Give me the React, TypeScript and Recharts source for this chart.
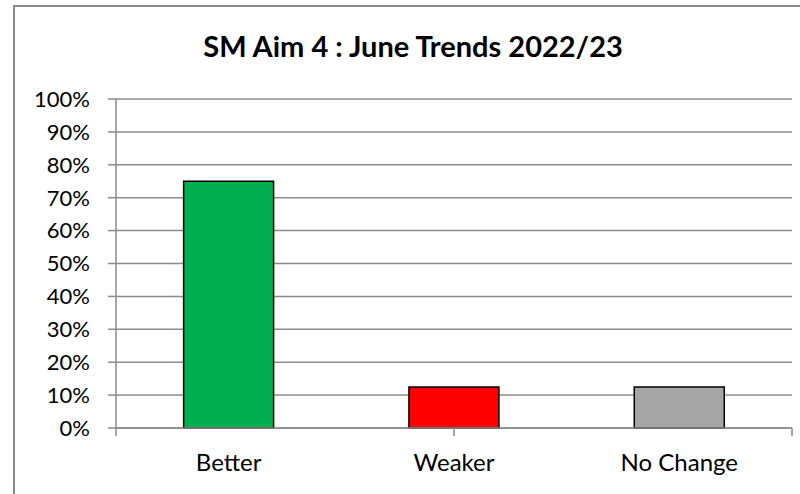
import React from "react";
import { BarChart, Bar, XAxis, YAxis, CartesianGrid, Cell } from "recharts";

const categories = ["Better", "Weaker", "No Change"];
const values = [0.75, 0.125, 0.125];
const colors = ["#00B050", "#FF0000", "#A6A6A6"];
const yTicks = [0, 0.1, 0.2, 0.3, 0.4, 0.5, 0.6, 0.7, 0.8, 0.9, 1];
const edgeTicks = [0, 1, 2, 3];
const title = "SM Aim 4 : June Trends 2022/23";

const data = categories.map((c, i) => ({ name: c, value: values[i] }));

const FONT = "Lato, 'Open Sans', sans-serif";
const GRID = "#8c8c8c";

export default function App() {
  return (
    <div style={{ position: "absolute", left: 0, top: 0, width: 800, height: 494, overflow: "hidden", background: "#fff", fontFamily: FONT }}>
      <div style={{ position: "absolute", left: 13, top: 5, width: 820, height: 520, border: `2px solid ${GRID}`, boxSizing: "border-box" }} />
      <div style={{ position: "absolute", left: 0, top: 28, width: 826, textAlign: "center", fontWeight: 700, fontSize: 29, color: "#000", lineHeight: "36px" }}>
        {title}
      </div>
      <div style={{ position: "absolute", left: 0, top: 0 }}>
        <BarChart width={800} height={494} data={data} margin={{ top: 99, right: 8, bottom: 8, left: 16 }} barCategoryGap="30%">
          <CartesianGrid vertical={false} stroke={GRID} strokeWidth={1.5} yAxisId="y" xAxisId="b" />
          <YAxis
            yAxisId="y"
            width={100}
            domain={[0, 1]}
            ticks={yTicks}
            interval={0}
            tickFormatter={(v: number) => `${Math.round(v * 100)}%`}
            axisLine={{ stroke: GRID, strokeWidth: 1.5 }}
            tickLine={{ stroke: GRID, strokeWidth: 1.5 }}
            tickSize={8}
            tickMargin={18}
            tick={{ fill: "#000", fontSize: 22, fontFamily: FONT }}
          />
          <XAxis
            xAxisId="a"
            type="number"
            domain={[0, 3]}
            ticks={edgeTicks}
            interval={0}
            height={8}
            tickFormatter={() => ""}
            tickSize={8}
            axisLine={{ stroke: GRID, strokeWidth: 1.5 }}
            tickLine={{ stroke: GRID, strokeWidth: 1.5 }}
          />
          <XAxis
            xAxisId="b"
            dataKey="name"
            height={50}
            axisLine={false}
            tickLine={false}
            tickSize={0}
            tickMargin={18}
            interval={0}
            tick={{ fill: "#000", fontSize: 24, fontFamily: FONT }}
          />
          <Bar dataKey="value" xAxisId="b" yAxisId="y" stroke="#000" strokeWidth={1.5} isAnimationActive={false}>
            {data.map((d, i) => (
              <Cell key={d.name} fill={colors[i]} />
            ))}
          </Bar>
        </BarChart>
      </div>
    </div>
  );
}
